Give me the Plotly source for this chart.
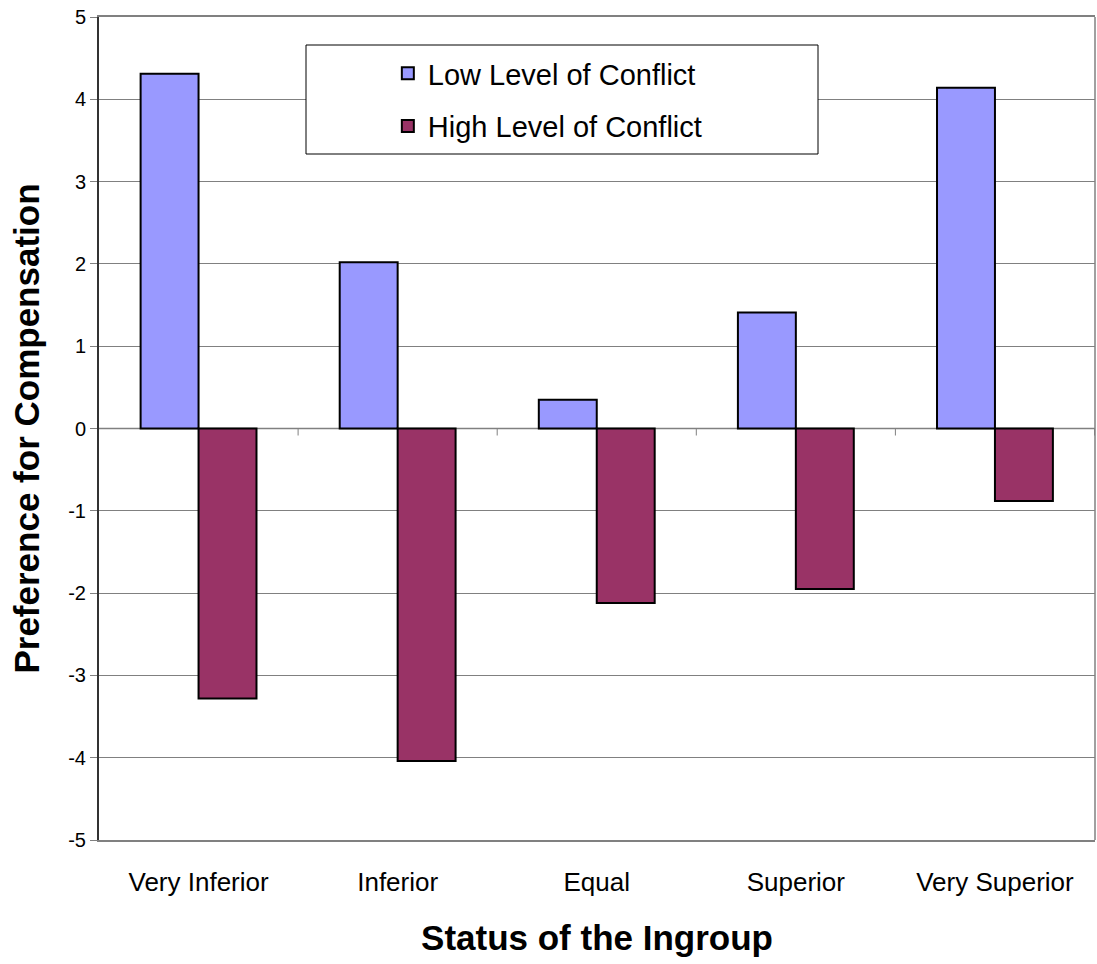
import plotly.graph_objects as go

categories = ["Very Inferior", "Inferior", "Equal", "Superior", "Very Superior"]
low_conflict = [4.31, 2.02, 0.35, 1.41, 4.14]
high_conflict = [-3.28, -4.04, -2.12, -1.95, -0.88]
y_ticks = [-5, -4, -3, -2, -1, 0, 1, 2, 3, 4, 5]
y_tick_labels = ["-5", "-4", "-3", "-2", "-1", "0", "1", "2", "3", "4", "5"]

fig = go.Figure()
fig.add_trace(go.Bar(x=categories, y=low_conflict, name="Low Level of Conflict",
                     marker=dict(color="#9999FF", line=dict(color="black", width=2)),
                     legendgroup="a"))
fig.add_trace(go.Bar(x=categories, y=high_conflict, name="High Level of Conflict",
                     marker=dict(color="#993366", line=dict(color="black", width=2)),
                     legendgroup="b"))

PH = 823
shapes = [dict(type="rect", xref="paper", yref="paper",
               x0=(306 - 99) / 996, x1=(818 - 99) / 996,
               y0=1 - (154 - 17) / PH, y1=1 - (45 - 17) / PH,
               line=dict(color="black", width=1), fillcolor="white", layer="above")]
for i in range(len(categories)):
    shapes.append(dict(type="line", xref="x", yref="paper", x0=i + 0.5, x1=i + 0.5,
                       y0=0.5, y1=0.5 - 7 / PH, line=dict(color="#808080", width=1)))
shapes.append(dict(type="line", xref="paper", yref="y", x0=0, x1=1, y0=0, y1=0,
                   line=dict(color="#808080", width=1.5), layer="between"))
shapes.append(dict(type="line", xref="paper", yref="paper", x0=1, x1=1, y0=0, y1=1,
                   line=dict(color="#808080", width=1.5), layer="between"))

fig.update_layout(
    width=1097, height=964,
    margin=dict(l=99, r=2, t=17, b=124),
    paper_bgcolor="white", plot_bgcolor="white",
    font=dict(family="Liberation Sans, Arial, sans-serif", color="black"),
    barmode="group", bargap=0.418, bargroupgap=0,
    shapes=shapes,
    legend=dict(x=0.29, y=1 - (48 - 17) / PH, xanchor="left", yanchor="top",
                font=dict(size=29), bgcolor="rgba(0,0,0,0)", borderwidth=0,
                traceorder="grouped", tracegroupgap=12),
    xaxis=dict(showline=True, linecolor="#808080", linewidth=1.5, mirror=True,
               ticks="", tickfont=dict(size=26), ticklabelstandoff=18,
               title=dict(text="<b>Status of the Ingroup</b>", font=dict(size=35), standoff=30),
               showgrid=False),
    yaxis=dict(range=[-5, 5], tickvals=y_ticks, ticktext=y_tick_labels,
               showline=True, linecolor="#333333", linewidth=2, mirror=False,
               ticks="outside", ticklen=7, tickcolor="#808080", tickfont=dict(size=20),
               showgrid=True, gridcolor="#808080", gridwidth=1, zeroline=False,
               title=dict(text="<b>Preference for Compensation</b>", font=dict(size=35), standoff=18)),
)
fig.write_html("out.html", config={"responsive": False, "displayModeBar": False},
               post_script="document.body.style.margin='0';document.body.style.padding='0';")
